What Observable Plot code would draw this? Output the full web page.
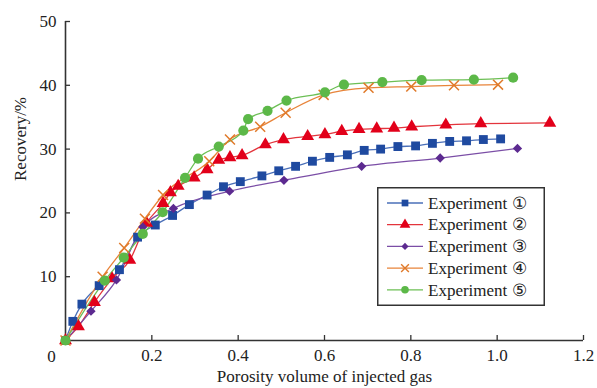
<!DOCTYPE html>
<html><head><meta charset="utf-8">
<script src="https://cdn.jsdelivr.net/npm/d3@7"></script>
<script src="https://cdn.jsdelivr.net/npm/@observablehq/plot@0.6"></script>
<style>
body{margin:0;background:#fff;}
#chart{position:relative;width:597px;height:388px;overflow:hidden;background:#fff;}
#legend{position:absolute;left:377px;top:187px;}
</style></head><body><div id="chart"></div>
<script>
// ---- data ----
const exp1X = [0, 0.017, 0.038, 0.078, 0.125, 0.167, 0.208, 0.248, 0.287, 0.328, 0.366, 0.405, 0.455, 0.494, 0.533, 0.572, 0.612, 0.653, 0.692, 0.730, 0.770, 0.811, 0.850, 0.890, 0.929, 0.968, 1.008];
const exp1Y = [0, 3.0, 5.7, 8.6, 11.1, 16.2, 18.1, 19.6, 21.3, 22.8, 24.1, 24.9, 25.8, 26.6, 27.3, 28.1, 28.7, 29.1, 29.8, 30.0, 30.4, 30.5, 30.9, 31.2, 31.3, 31.5, 31.6];
const exp2X = [0, 0.03, 0.067, 0.108, 0.149, 0.188, 0.226, 0.243, 0.261, 0.298, 0.328, 0.355, 0.381, 0.409, 0.463, 0.505, 0.561, 0.601, 0.640, 0.680, 0.721, 0.761, 0.802, 0.881, 0.962, 1.122];
const exp2Y = [0, 2.2, 6.0, 9.7, 12.6, 18.4, 21.5, 23.2, 24.2, 25.5, 26.8, 28.3, 28.7, 29.0, 30.7, 31.5, 32.0, 32.3, 32.8, 33.1, 33.2, 33.3, 33.5, 33.8, 34.0, 34.1];
const exp3X = [0, 0.059, 0.118, 0.179, 0.25, 0.38, 0.506, 0.686, 0.868, 1.047];
const exp3Y = [0, 4.6, 9.5, 17.8, 20.7, 23.4, 25.1, 27.3, 28.6, 30.1];
const exp4X = [0, 0.086, 0.136, 0.184, 0.226, 0.333, 0.381, 0.451, 0.51, 0.598, 0.702, 0.801, 0.9, 1.002];
const exp4Y = [0, 10.0, 14.5, 19.1, 22.8, 28.1, 31.5, 33.5, 35.7, 38.5, 39.6, 39.8, 40.0, 40.1];
const exp5X = [0, 0.091, 0.135, 0.179, 0.225, 0.277, 0.307, 0.355, 0.412, 0.423, 0.468, 0.512, 0.601, 0.645, 0.734, 0.825, 0.946, 1.037];
const exp5Y = [0, 9.4, 13.0, 16.7, 20.1, 25.5, 28.5, 30.4, 32.9, 34.7, 36.0, 37.6, 38.9, 40.1, 40.5, 40.8, 40.9, 41.2];

const seriesNames = ["Experiment ①", "Experiment ②", "Experiment ③", "Experiment ④", "Experiment ⑤"];
const xTicks = [0.2, 0.4, 0.6, 0.8, 1.0, 1.2];
const yTicks = [10, 20, 30, 40, 50];
const xLabel = "Porosity volume of injected gas";
const yLabel = "Recovery/%";

// ---- styles ----
const lineColors = ["#4a6fb8", "#e3343c", "#7b4ea6", "#e8843a", "#6cbf55"];
const markColors = ["#1f4aa0", "#e2001a", "#5c2a90", "#e07a2a", "#5cb848"];
const symbols = ["square", "triangle", "diamond2", "times", "circle"];
const radii = [5, 4.8, 4.2, 4.6, 5.1];
const font = "'Liberation Serif', 'Times New Roman', serif";
const axisColor = "#333";

const allX = [exp1X, exp2X, exp3X, exp4X, exp5X];
const allY = [exp1Y, exp2Y, exp3Y, exp4Y, exp5Y];
const seriesRows = allX.map((xs, i) => xs.map((x, j) => ({series: seriesNames[i], x, y: allY[i][j]})));

const marks = [];
seriesRows.forEach((rows, i) => {
  marks.push(Plot.line(rows, {x: "x", y: "y", stroke: lineColors[i], strokeWidth: 1.3, curve: "monotone-x"}));
});
seriesRows.forEach((rows, i) => {
  const filled = symbols[i] !== "times";
  marks.push(Plot.dot(rows, filled
    ? {x: "x", y: "y", symbol: () => symbols[i], r: radii[i], fill: markColors[i], stroke: "none"}
    : {x: "x", y: "y", symbol: () => symbols[i], r: radii[i], stroke: markColors[i], strokeWidth: 1.5, fill: "none"}));
});

const chart = Plot.plot({
  width: 597, height: 388,
  marginLeft: 65, marginRight: 14, marginTop: 21, marginBottom: 48,
  style: {fontFamily: font, fontSize: "17px", color: "#222", background: "#fff"},
  x: {domain: [0, 1.2]},
  y: {domain: [0, 50]},
  symbol: {type: "identity"},
  marks: [
    Plot.axisX(xTicks, {tickSize: -5, tickPadding: 13, tickFormat: d => d3.format(".1f")(d), stroke: axisColor, strokeWidth: 1.3, fontSize: 17, label: null}),
    Plot.axisY(yTicks, {tickSize: -5, tickPadding: 14, tickFormat: d => String(d), stroke: axisColor, strokeWidth: 1.3, fontSize: 17, label: null}),
    Plot.ruleX([0], {stroke: axisColor, strokeWidth: 1.6}),
    Plot.ruleY([0], {stroke: axisColor, strokeWidth: 1.6}),
    Plot.text(["0"], {x: 0, y: 0, text: d => d, dx: -14, dy: 16, fontSize: 17, fill: "#222"}),
    Plot.text([yLabel], {frameAnchor: "left", text: d => d, rotate: -90, dx: -45, fontSize: 17, fill: "#222"}),
    Plot.text([xLabel], {frameAnchor: "bottom", text: d => d, dy: 41, fontSize: 17, fill: "#222"}),
    ...marks
  ]
});
const container = document.getElementById("chart");
container.appendChild(chart);

// ---- legend ----
const lw = 168, lh = 119;
const legend = d3.select(container).append("div").attr("id", "legend")
  .append("svg").attr("width", lw).attr("height", lh)
  .style("font-family", font).style("font-size", "17px");
legend.append("rect").attr("x", 0.75).attr("y", 0.75).attr("width", lw - 1.5).attr("height", lh - 1.5)
  .attr("fill", "#fff").attr("stroke", axisColor).attr("stroke-width", 1.5);
const symMap = {square: d3.symbolSquare, triangle: d3.symbolTriangle, diamond2: d3.symbolDiamond2, times: d3.symbolTimes, circle: d3.symbolCircle};
const legR = [3.8, 4.0, 3.2, 3.6, 3.8];
seriesNames.forEach((name, i) => {
  const cy = 16 + i * 21.7;
  const g = legend.append("g").attr("transform", `translate(0,${cy})`);
  g.append("line").attr("x1", 10).attr("x2", 46).attr("y1", 0).attr("y2", 0)
    .attr("stroke", lineColors[i]).attr("stroke-width", 1.3);
  const filled = symbols[i] !== "times";
  g.append("path").attr("transform", "translate(28,0)")
    .attr("d", d3.symbol(symMap[symbols[i]], Math.PI * legR[i] * legR[i])())
    .attr("fill", filled ? markColors[i] : "none")
    .attr("stroke", filled ? "none" : markColors[i]).attr("stroke-width", 1.4);
  g.append("text").attr("x", 51).attr("y", 0).attr("dy", "0.34em").attr("fill", "#222").text(name);
});
</script></body></html>
